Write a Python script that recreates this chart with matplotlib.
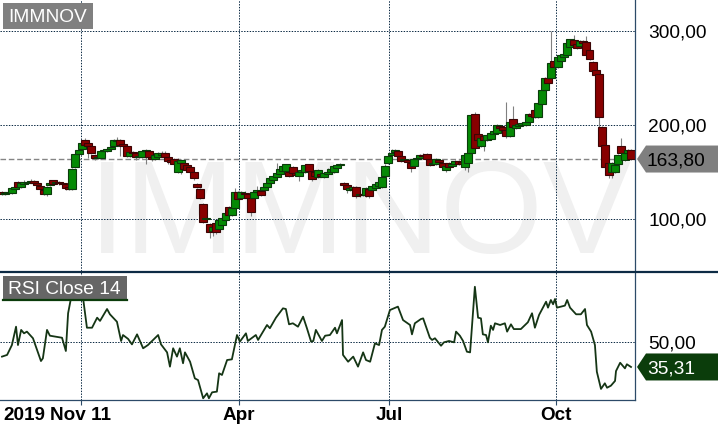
import matplotlib
matplotlib.use("Agg")
import matplotlib.pyplot as plt
from matplotlib.patches import Rectangle, Polygon
from matplotlib.lines import Line2D

plt.rcParams['font.family'] = ['Liberation Sans', 'DejaVu Sans']

# ---------------- data ----------------
ticker = "IMMNOV"
indicator_label = "RSI Close 14"
last_price = 163.80
last_rsi = 35.31
price_ticks = [100, 200, 300]
rsi_ticks = [50]
date_tick_days = [24.7, 74.2, 121.2, 173.5]
date_tick_labels = ["Nov 11", "Apr", "Jul", "Oct"]
year_label = "2019"

opens = [129, 127, 128, 128, 132, 139, 134, 137, 138, 139, 140, 138, 135, 131, 127, 136, 141, 138, 139, 138,
         137, 134, 132, 155, 169, 175, 184, 181, 178, 168, 165, 165, 172, 172, 174, 178, 183, 184, 180, 178,
         167, 171, 170, 166, 166, 172, 172, 166, 164, 166, 168, 170, 166, 163, 164, 150, 160, 160, 157, 155,
         150, 137, 132, 116, 100, 95, 87, 96, 89, 94, 99, 113, 104, 112, 129, 122, 128, 127, 122, 122,
         129, 130, 131, 134, 138, 141, 145, 148, 151, 151, 150, 155, 149, 146, 150, 150, 158, 151, 150, 145,
         148, 145, 148, 150, 150, 154, 157, 138, 136, 131, 132, 134, 125, 127, 125, 132, 131, 133, 135, 134,
         146, 160, 168, 171, 172, 167, 163, 163, 160, 156, 164, 165, 168, 169, 164, 158, 158, 163, 160, 152,
         160, 156, 158, 162, 161, 155, 160, 170, 212, 190, 178, 188, 184, 185, 190, 191, 199, 198, 195, 188,
         206, 197, 199, 200, 200, 203, 212, 216, 208, 222, 237, 250, 250, 268, 262, 268, 272, 275, 283, 290,
         286, 284, 289, 288, 280, 267, 258, 254, 198, 179, 160, 150, 150, 158, 178, 163, 170, 173]
closes = [127, 128, 129, 133, 134, 134, 138, 139, 139, 140, 138, 136, 132, 127, 134, 138, 137, 139, 138, 137,
          133, 132, 153, 169, 173, 181, 179, 178, 170, 165, 166, 172, 173, 174, 177, 184, 184, 179, 178, 167,
          171, 170, 166, 167, 172, 173, 166, 164, 168, 170, 170, 166, 162, 161, 158, 162, 163, 153, 152, 150,
          144, 134, 122, 97, 101, 86, 92, 86, 99, 101, 106, 104, 112, 129, 121, 129, 127, 122, 107, 129,
          131, 125, 134, 138, 144, 146, 149, 153, 156, 158, 146, 149, 147, 150, 152, 157, 151, 143, 146, 152,
          146, 149, 150, 153, 156, 157, 159, 136, 132, 133, 134, 124, 127, 126, 133, 124, 135, 137, 139, 145,
          156, 167, 170, 173, 167, 162, 164, 161, 154, 164, 165, 168, 167, 164, 157, 160, 164, 161, 155, 156,
          155, 158, 162, 158, 159, 168, 170, 211, 176, 184, 186, 184, 189, 191, 194, 200, 197, 195, 188, 203,
          198, 200, 201, 202, 203, 212, 210, 208, 223, 237, 250, 245, 266, 262, 272, 274, 276, 287, 291, 285,
          282, 289, 287, 275, 270, 257, 253, 208, 178, 155, 147, 160, 157, 168, 170, 170, 173, 163.8]
highs = [130, 129, 130, 134, 135, 140, 139, 141, 140, 143, 141, 139, 136, 132, 135, 139, 142, 140, 140, 139,
         138, 135, 154, 170, 174, 182, 186, 182, 179, 169, 167, 173, 174, 175, 178, 185, 187, 185, 181, 179,
         172, 172, 171, 168, 173, 174, 173, 167, 169, 171, 172, 172, 167, 164, 165, 165, 164, 161, 158, 156,
         151, 138, 133, 117, 104, 96, 93, 97, 100, 103, 107, 114, 113, 133, 130, 130, 130, 128, 123, 130,
         135, 131, 135, 139, 145, 147, 160, 154, 157, 159, 151, 156, 150, 151, 153, 159, 159, 152, 151, 153,
         149, 150, 154, 154, 157, 158, 160, 139, 137, 134, 135, 135, 128, 128, 134, 133, 136, 138, 140, 146,
         158, 168, 175, 174, 173, 168, 165, 164, 161, 165, 166, 169, 170, 170, 165, 161, 165, 164, 161, 157,
         161, 159, 163, 163, 162, 169, 171, 212, 214, 208, 187, 189, 190, 192, 195, 201, 200, 199, 224, 204,
         220, 201, 202, 203, 204, 213, 213, 217, 224, 238, 251, 252, 300, 269, 273, 275, 277, 288, 292, 296,
         287, 290, 290, 295, 281, 268, 259, 255, 199, 180, 161, 161, 158, 169, 186, 171, 174, 174]
lows = [126, 126, 127, 127, 131, 133, 133, 136, 137, 138, 137, 135, 131, 125, 124, 135, 136, 137, 136, 136,
        131, 131, 131, 154, 168, 174, 178, 165, 169, 163, 164, 164, 171, 171, 173, 177, 182, 167, 177, 166,
        166, 168, 163, 165, 165, 158, 165, 162, 163, 165, 167, 165, 158, 160, 157, 149, 148, 152, 151, 149,
        141, 133, 121, 96, 98, 80, 82, 84, 86, 93, 98, 103, 103, 111, 120, 121, 125, 120, 103, 121,
        128, 124, 130, 133, 137, 140, 144, 147, 150, 150, 145, 148, 146, 140, 149, 149, 150, 140, 145, 144,
        145, 144, 147, 149, 149, 153, 156, 135, 128, 130, 131, 122, 123, 124, 123, 122, 130, 132, 134, 133,
        145, 159, 167, 170, 166, 161, 162, 160, 150, 155, 163, 164, 166, 163, 156, 157, 157, 160, 152, 150,
        154, 155, 157, 157, 157, 152, 150, 169, 175, 183, 177, 172, 183, 184, 189, 190, 196, 194, 186, 187,
        197, 196, 198, 199, 199, 202, 209, 207, 207, 221, 236, 244, 249, 261, 261, 267, 271, 274, 282, 284,
        281, 283, 286, 274, 269, 256, 252, 198, 177, 154, 144, 144, 149, 157, 169, 162, 169, 163]

rsi_day = [0, 1.6, 3.1, 4.4, 5.0, 6.0, 6.9, 7.8, 9.7, 12.2, 12.8, 14.1, 15.0, 18.8, 20.0, 20.7, 21.6, 23.2,
           25.4, 26.6, 28.2, 29.8, 30.7, 32.9, 33.8, 36.0, 37.3, 37.9, 39.5, 40.7, 42.3, 44.2, 45.7, 48.9,
           49.8, 51.7, 52.6, 53.6, 54.8, 55.7, 56.7, 57.3, 58.9, 60.4, 61.4, 63.0, 64.2, 64.8, 65.8, 67.3,
           68.0, 68.9, 70.5, 72.0, 73.6, 74.5, 76.4, 77.0, 79.5, 80.2, 83.0, 83.9, 85.8, 88.0, 88.9, 89.9,
           91.1, 92.7, 94.3, 95.5, 96.8, 97.5, 98.3, 100.2, 101.2, 102.7, 104.3, 104.9, 106.5, 106.8, 108.4,
           110.0, 111.5, 113.1, 114.0, 115.3, 116.8, 118.1, 119.0, 119.9, 121.5, 124.0, 125.6, 127.8, 128.4,
           129.3, 131.2, 131.9, 134.0, 134.7, 135.6, 137.5, 138.4, 140.0, 141.6, 142.2, 143.4, 144.4, 145.6,
           146.6, 148.1, 149.1, 150.0, 150.6, 151.6, 152.2, 153.1, 153.8, 154.4, 156.0, 157.5, 158.2, 159.4,
           160.3, 162.5, 164.7, 166.0, 166.9, 168.2, 169.4, 170.4, 171.0, 171.9, 172.6, 173.2, 173.8, 176.3,
           177.0, 177.9, 179.8, 181.3, 182.6, 183.2, 184.5, 185.7, 186.3, 187.6, 188.8, 189.5, 190.7, 192.0,
           192.3, 193.6, 195.1, 195.7, 197.0]
rsi_val = [41.4, 42.4, 48.2, 59.0, 48.2, 57.1, 55.1, 56.1, 52.2, 38.8, 40.4, 57.1, 53.7, 52.5, 44.7, 66.9, 75.7, 83.0,
           75.7, 58.4, 58.4, 64.3, 62.4, 69.4, 66.3, 61.9, 50.6, 54.1, 51.8, 48.6, 54.5, 46.3, 48.2, 54.1,
           48.6, 43.9, 35.5, 46.3, 41.4, 46.3, 37.5, 43.9, 38.4, 28.6, 27.6, 16.9, 19.8, 16.9, 20.4, 20.8,
           31.6, 30.6, 39.4, 39.8, 54.1, 50.2, 55.1, 50.6, 54.1, 51.2, 60.0, 58.1, 64.3, 69.8, 69.4, 60.4,
           61.0, 59.0, 64.9, 58.1, 50.2, 50.6, 57.1, 50.6, 53.7, 54.1, 58.4, 55.1, 62.9, 42.4, 38.4,
           41.4, 35.5, 43.9, 39.4, 38.4, 49.2, 48.2, 57.1, 59.0, 68.8, 70.8, 62.9, 60.0, 54.5,
           61.0, 63.5, 63.9, 52.5, 51.2, 52.2, 47.8, 49.8, 50.6, 49.8, 56.1, 53.7, 50.6, 44.3,
           43.9, 82.5, 64.3, 63.9, 54.5, 54.1, 49.8, 59.6, 57.1, 61.0, 60.0, 61.0, 56.1, 60.4,
           57.6, 57.6, 61.6, 66.9, 58.4, 65.9, 70.2, 73.7, 70.2, 74.7, 72.2, 75.3, 70.2, 71.4,
           74.7, 70.2, 66.3, 66.3, 69.4, 60.0, 56.1, 48.2, 32.5, 22.4, 25.7, 23.1, 24.3, 27.1,
           32.9, 37.8, 34.5, 36.9, 35.31]

# ---------------- layout ----------------
W, H = 718, 430
fig = plt.figure(figsize=(W / 100, H / 100), dpi=100)
fig.patch.set_facecolor("white")

def fx(px):
    return px / W

def fy(py):
    return 1 - py / H

GRID_C = "#0d2b45"
SPINE_C = "#2c4a68"
GREEN, GREEN_E = "#058a05", "#0b3b0b"
RED, RED_E = "#880000", "#3b0505"

ax = fig.add_axes([0, fy(271), fx(635), 271 / H])
ax2 = fig.add_axes([0, fy(400), fx(635), 129 / H])
for a in (ax, ax2):
    a.set_facecolor("none")
    for s in a.spines.values():
        s.set_visible(False)
    a.set_xlim(-0.626, 198.25)

ax.set_ylim(44.68, 332.98)
ax2.set_ylim(15.88, 91.76)

dots = (0, (1.4, 1.4))
for p in price_ticks:
    ax.axhline(p, color=GRID_C, lw=0.72, ls=dots, zorder=1)
for r in rsi_ticks:
    ax2.axhline(r, color=GRID_C, lw=0.72, ls=dots, zorder=1)
for d in date_tick_days:
    ax.axvline(d, color=GRID_C, lw=0.72, ls=dots, zorder=1)
    ax2.axvline(d, color=GRID_C, lw=0.72, ls=dots, zorder=1)

# watermark
ax.text(360 / 635, 18 / 271, ticker, transform=ax.transAxes, ha="center", va="baseline",
        fontsize=95, color="#f0f0f0", zorder=0.5)

# last price dashed line
ax.axhline(last_price, color="#858585", lw=1.0, ls=(0, (4, 2)), zorder=1.5)

# candles
days = list(range(len(closes)))
ax.vlines(days, lows, highs, color="#808080", lw=0.8, zorder=2)
bottoms = [min(o, c) for o, c in zip(opens, closes)]
heights = [max(abs(c - o), 0.8) for o, c in zip(opens, closes)]
fills = [GREEN if c >= o else RED for o, c in zip(opens, closes)]
edges = [GREEN_E if c >= o else RED_E for o, c in zip(opens, closes)]
ax.bar(days, heights, bottom=bottoms, width=2.5, color=fills, edgecolor=edges,
       linewidth=0.8, zorder=3)

# RSI line
ax2.plot(rsi_day, rsi_val, color="#153515", lw=1.3, zorder=3)

# axes ticks
ax.set_xticks([])
ax.yaxis.tick_right()
ax.set_yticks(price_ticks)
ax.set_yticklabels([f"{v:.2f}".replace(".", ",") for v in price_ticks])
ax.tick_params(axis="y", length=0, pad=9.4, labelsize=13.8, labelcolor="black")

ax2.yaxis.tick_right()
ax2.set_yticks(rsi_ticks)
ax2.set_yticklabels([f"{v:.2f}".replace(".", ",") for v in rsi_ticks])
ax2.tick_params(axis="y", length=0, pad=9.4, labelsize=13.8, labelcolor="black")
ax2.set_xticks(date_tick_days)
ax2.set_xticklabels(date_tick_labels, fontweight="bold")
ax2.tick_params(axis="x", length=3.6, width=0.8, color=SPINE_C, pad=1.5,
                labelsize=13.6, labelcolor="black")
label_top = 400 + (3.6 + 1.5) * 100 / 72
fig.text(fx(3), fy(label_top), year_label, ha="left", va="top",
         fontsize=13.6, fontweight="bold", color="black")

# frame lines
fig.add_artist(Line2D([fx(635), fx(635)], [fy(0), fy(400)], color=SPINE_C, lw=0.9))
fig.add_artist(Line2D([fx(0), fx(635)], [fy(400), fy(400)], color=SPINE_C, lw=0.9))
fig.add_artist(Line2D([0, 1], [fy(271.5), fy(271.5)], color=GRID_C, lw=1.6))

# top-left labels
fig.add_artist(Rectangle((fx(3), fy(29)), fx(90), 26 / H, facecolor="#808080",
                         edgecolor="none", transform=fig.transFigure))
fig.text(fx(8), fy(16), ticker, ha="left", va="center_baseline", fontsize=13.8, color="white")
fig.add_artist(Rectangle((fx(3), fy(300)), fx(124), 24 / H, facecolor="#666666",
                         edgecolor="none", transform=fig.transFigure))
fig.add_artist(Line2D([fx(3), fx(127)], [fy(300), fy(300)], color="#0b3b0b", lw=1.6))
fig.text(fx(8), fy(288), indicator_label, ha="left", va="center_baseline",
         fontsize=13.8, color="white")

# value tags on the right
def tag(axis, value, text, face, tcolor):
    ypix = axis.transData.transform((0, value))[1]
    yp = H - ypix
    pts = [(637, yp), (646, yp - 13.5), (718, yp - 13.5), (718, yp + 13.5), (646, yp + 13.5)]
    fig.add_artist(Polygon([(fx(x), fy(y)) for x, y in pts], closed=True, facecolor=face,
                           edgecolor="none", transform=fig.transFigure))
    fig.text(fx(647), fy(yp), text, ha="left", va="center_baseline", fontsize=13.8, color=tcolor)

tag(ax, last_price, f"{last_price:.2f}".replace(".", ","), "#7f7f7f", "black")
tag(ax2, last_rsi, f"{last_rsi:.2f}".replace(".", ","), "#0b3d0b", "white")

fig.savefig("out.png", dpi=100)
